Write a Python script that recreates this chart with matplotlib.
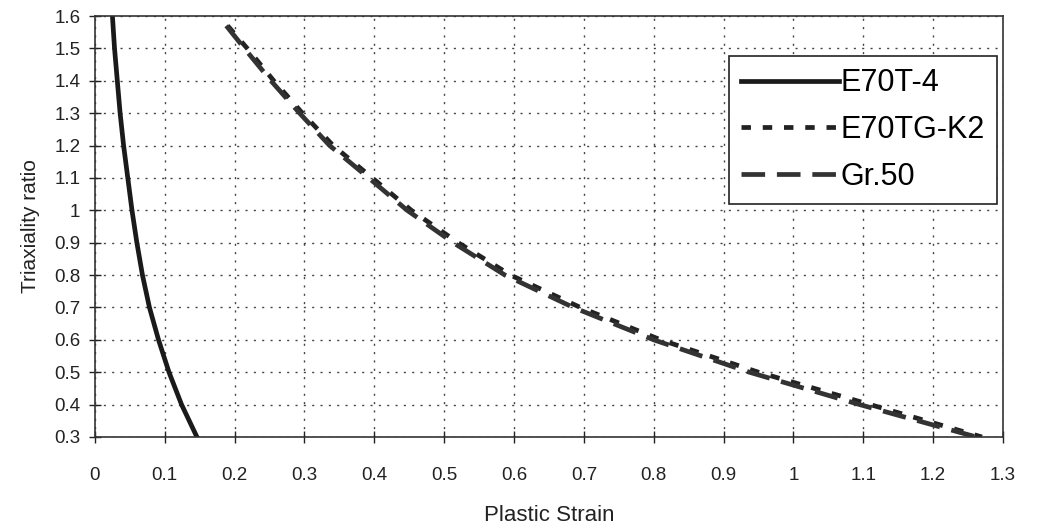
import numpy as np
import matplotlib.pyplot as plt
from matplotlib.ticker import FuncFormatter

plt.rcParams['font.family'] = ['Liberation Sans', 'DejaVu Sans']

# values
triax_e70t4 = [1.6, 1.5, 1.4, 1.3, 1.2, 1.1, 1.0, 0.9, 0.8, 0.7, 0.6, 0.5, 0.4, 0.3]
strain_e70t4 = [0.025, 0.028, 0.032, 0.036, 0.041, 0.047, 0.053, 0.060, 0.068, 0.078, 0.091, 0.106, 0.124, 0.146]

triax_k2 = [1.57, 1.5, 1.4, 1.3, 1.2, 1.1, 1.0, 0.9, 0.8, 0.7, 0.6, 0.5, 0.4, 0.3]
strain_k2 = [0.19, 0.218, 0.256, 0.297, 0.341, 0.397, 0.453, 0.52, 0.595, 0.695, 0.81, 0.95, 1.11, 1.27]

triax_gr50 = [1.57, 1.5, 1.4, 1.3, 1.2, 1.1, 1.0, 0.9, 0.8, 0.7, 0.6, 0.5, 0.4, 0.3]
strain_gr50 = [0.188, 0.214, 0.252, 0.293, 0.336, 0.392, 0.447, 0.513, 0.587, 0.685, 0.80, 0.937, 1.095, 1.262]

fig = plt.figure(figsize=(10.39, 5.27), dpi=100)
ax = fig.add_axes([0.0914, 0.1708, 0.8739, 0.7988])

ax.plot(strain_e70t4, triax_e70t4, color='#1a1a1a', lw=3.4, label='E70T-4')
ax.plot(strain_k2, triax_k2, color='#222222', lw=3.4, dashes=(2, 2.5), label='E70TG-K2')
ax.plot(strain_gr50, triax_gr50, color='#333333', lw=3.4, dashes=(5, 2.5), label='Gr.50')

ax.set_xlim(0, 1.3)
ax.set_ylim(0.3, 1.6)
ax.set_xticks(np.arange(0, 1.31, 0.1))
ax.set_yticks(np.arange(0.3, 1.61, 0.1))
fmt = FuncFormatter(lambda v, p: ('%.1f' % v).rstrip('0').rstrip('.') if abs(v) > 1e-9 else '0')
ax.xaxis.set_major_formatter(fmt)
ax.yaxis.set_major_formatter(fmt)
ax.tick_params(direction='inout', length=9, width=1, labelsize=13.5, colors='#222222')
ax.tick_params(axis='x', pad=17)
ax.tick_params(axis='y', pad=6)

ax.grid(True, color='#444444', linestyle=(0, (1.5, 4.5)), lw=1)
for s in ax.spines.values():
    s.set_color('#333333')
    s.set_linewidth(1.2)

ax.set_xlabel('Plastic Strain', fontsize=16, labelpad=15, color='#222222')
ax.set_ylabel('Triaxiality ratio', fontsize=15, labelpad=10, color='#222222')

leg = ax.legend(loc='upper right', bbox_to_anchor=(0.9935, 0.905), fontsize=22,
                frameon=True, fancybox=False, edgecolor='#222222', framealpha=1,
                handlelength=3.2, handletextpad=0.05, borderpad=0.4, labelspacing=0.55,
                borderaxespad=0)
leg.get_frame().set_linewidth(1.2)

fig.savefig('out.png', dpi=100)
